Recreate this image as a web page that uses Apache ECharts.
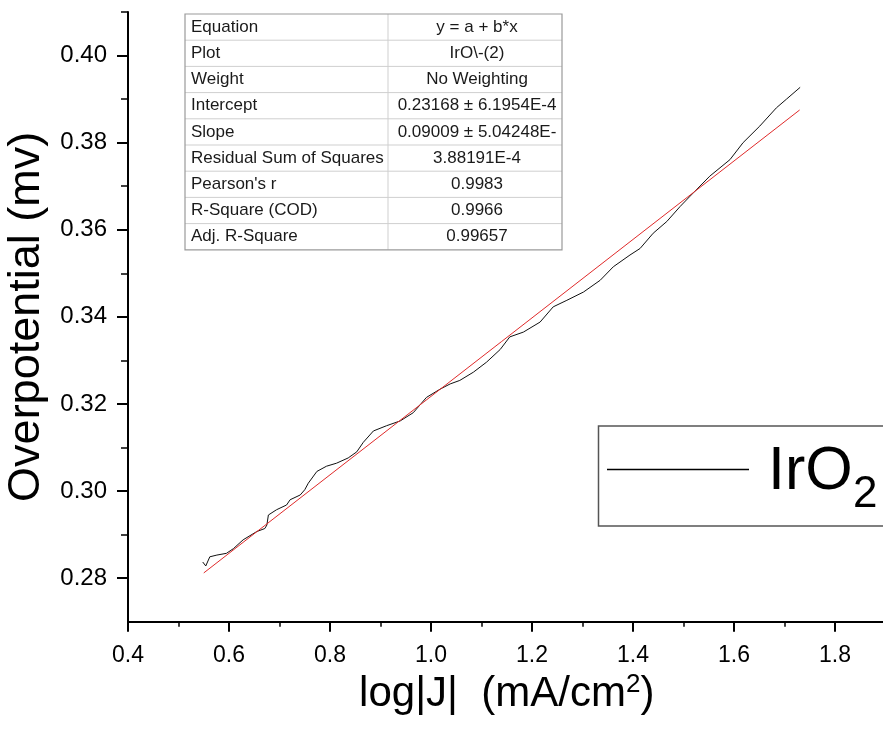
<!DOCTYPE html>
<html>
<head>
<meta charset="utf-8">
<title>IrO2 Tafel plot</title>
<script src="https://cdn.jsdelivr.net/npm/echarts@6/dist/echarts.min.js"></script>
<style>
  html, body { margin: 0; padding: 0; background: #fff; }
  #chart { width: 883px; height: 736px; }
</style>
</head>
<body>
<div id="chart"></div>
<script>
// measured curve (log|J| vs overpotential)
const logJ = [0.548, 0.554, 0.562, 0.576, 0.595, 0.609, 0.628, 0.655, 0.671, 0.675,
  0.678, 0.694, 0.714, 0.721, 0.741, 0.750, 0.757, 0.774, 0.793, 0.813,
  0.836, 0.853, 0.866, 0.886, 0.912, 0.939, 0.965, 0.991, 1.018, 1.038,
  1.057, 1.084, 1.110, 1.137, 1.156, 1.183, 1.216, 1.242, 1.269, 1.302,
  1.335, 1.361, 1.394, 1.414, 1.440, 1.467, 1.493, 1.513, 1.552, 1.592,
  1.618, 1.651, 1.684, 1.704, 1.731];
const overpotential = [0.2837, 0.2828, 0.2849, 0.2853, 0.2857, 0.2868, 0.2888, 0.2907, 0.2914, 0.2922,
  0.2945, 0.2957, 0.2968, 0.2980, 0.2991, 0.3003, 0.3018, 0.3045, 0.3057, 0.3064,
  0.3076, 0.3090, 0.3112, 0.3138, 0.3150, 0.3161, 0.3180, 0.3215, 0.3234, 0.3246,
  0.3254, 0.3273, 0.3296, 0.3325, 0.3354, 0.3365, 0.3388, 0.3423, 0.3438, 0.3457,
  0.3484, 0.3515, 0.3542, 0.3557, 0.3592, 0.3619, 0.3653, 0.3677, 0.3723, 0.3761,
  0.3800, 0.3838, 0.3880, 0.3900, 0.3927];

// linear fit end points
const fitX = [0.55, 1.73];
const fitY = [0.2812, 0.3875];

// ticks
const xMajor = [0.4, 0.6, 0.8, 1.0, 1.2, 1.4, 1.6, 1.8];
const xMinor = [0.5, 0.7, 0.9, 1.1, 1.3, 1.5, 1.7, 1.9];
const yMajor = [0.28, 0.30, 0.32, 0.34, 0.36, 0.38, 0.40];
const yMinor = [0.29, 0.31, 0.33, 0.35, 0.37, 0.39, 0.41];

// fit report table
const tableLabels = ['Equation', 'Plot', 'Weight', 'Intercept', 'Slope',
  'Residual Sum of Squares', "Pearson's r", 'R-Square (COD)', 'Adj. R-Square'];
const tableValues = ['y = a + b*x', 'IrO\\-(2)', 'No Weighting', '0.23168 \u00b1 6.1954E-4',
  '0.09009 \u00b1 5.04248E-', '3.88191E-4', '0.9983', '0.9966', '0.99657'];

const FONT = '"Liberation Sans", Arial, sans-serif';

const chart = echarts.init(document.getElementById('chart'));

// table graphic
const tb = { x0: 185, x1: 388, x2: 562, top: 14, rowH: 26.2 };
const tableEls = [];
const tBottom = tb.top + tb.rowH * tableLabels.length;
tableLabels.forEach((lab, i) => {
  const yc = tb.top + tb.rowH * (i + 0.5);
  if (i > 0) {
    tableEls.push({
      type: 'line', silent: true,
      shape: { x1: tb.x0, y1: tb.top + tb.rowH * i, x2: tb.x2, y2: tb.top + tb.rowH * i },
      style: { stroke: '#cfcfcf', lineWidth: 1 }
    });
  }
  tableEls.push({
    type: 'text', silent: true,
    style: { text: lab, x: tb.x0 + 6, y: yc, fill: '#1a1a1a', font: '17px ' + FONT,
      align: 'left', verticalAlign: 'middle', textAlign: 'left', textVerticalAlign: 'middle' }
  });
  tableEls.push({
    type: 'text', silent: true,
    style: { text: tableValues[i], x: (tb.x1 + tb.x2) / 2 + 2, y: yc, fill: '#1a1a1a', font: '17px ' + FONT,
      align: 'center', verticalAlign: 'middle', textAlign: 'center', textVerticalAlign: 'middle' }
  });
});
tableEls.push({
  type: 'line', silent: true,
  shape: { x1: tb.x1, y1: tb.top, x2: tb.x1, y2: tBottom },
  style: { stroke: '#cfcfcf', lineWidth: 1 }
});
tableEls.push({
  type: 'rect', silent: true,
  shape: { x: tb.x0, y: tb.top, width: tb.x2 - tb.x0, height: tBottom - tb.top },
  style: { fill: null, stroke: '#9a9a9a', lineWidth: 1.2 }
});

// legend graphic
const legendEls = [
  { type: 'rect', silent: true, shape: { x: 598.5, y: 426, width: 300, height: 100 },
    style: { fill: '#fff', stroke: '#555', lineWidth: 1.5 } },
  { type: 'line', silent: true, shape: { x1: 607, y1: 469.5, x2: 749, y2: 469.5 },
    style: { stroke: '#000', lineWidth: 1.5 } },
  { type: 'text', silent: true,
    style: { text: 'IrO', x: 768, y: 472, fill: '#000', font: '61px ' + FONT,
      align: 'left', verticalAlign: 'middle', textAlign: 'left', textVerticalAlign: 'middle' } },
  { type: 'text', silent: true,
    style: { text: '2', x: 853, y: 495, fill: '#000', font: '44px ' + FONT,
      align: 'left', verticalAlign: 'middle', textAlign: 'left', textVerticalAlign: 'middle' } }
];

const option = {
  animation: false,
  backgroundColor: '#fff',
  textStyle: { fontFamily: FONT },
  grid: { left: 128, top: 12, width: 757.5, height: 609.7, outerBoundsMode: 'none', containLabel: false },
  xAxis: [
    {
      type: 'value', min: 0.4, max: 1.9,
      name: '{t|log|J|  (mA/cm}{s|2}{t|)}',
      nameLocation: 'middle', nameGap: 47,
      nameTextStyle: {
        rich: {
          t: { fontSize: 42, fontFamily: FONT, color: '#000', lineHeight: 46 },
          s: { fontSize: 26, fontFamily: FONT, color: '#000', verticalAlign: 'top', lineHeight: 46 }
        }
      },
      axisLine: { lineStyle: { color: '#000', width: 2 } },
      axisTick: { customValues: xMajor, length: 10, lineStyle: { color: '#000', width: 2 } },
      axisLabel: { customValues: xMajor, formatter: v => v.toFixed(1), fontSize: 23,
        color: '#000', margin: 22, fontFamily: FONT },
      splitLine: { show: false }
    },
    {
      type: 'value', min: 0.4, max: 1.9, position: 'bottom',
      axisLine: { show: false },
      axisTick: { customValues: xMinor, length: 5, lineStyle: { color: '#000', width: 1.5 } },
      axisLabel: { show: false },
      splitLine: { show: false }
    }
  ],
  yAxis: [
    {
      type: 'value', min: 0.27, max: 0.41,
      name: 'Overpotential (mv)',
      nameLocation: 'middle', nameGap: 74,
      nameTextStyle: { fontSize: 45, color: '#000', fontFamily: FONT },
      axisLine: { lineStyle: { color: '#000', width: 2 } },
      axisTick: { customValues: yMajor, length: 11, lineStyle: { color: '#000', width: 2 } },
      axisLabel: { customValues: yMajor, formatter: v => v.toFixed(2), fontSize: 24,
        color: '#000', margin: 21, fontFamily: FONT },
      splitLine: { show: false }
    },
    {
      type: 'value', min: 0.27, max: 0.41, position: 'left',
      axisLine: { show: false },
      axisTick: { customValues: yMinor, length: 7, lineStyle: { color: '#000', width: 1.5 } },
      axisLabel: { show: false },
      splitLine: { show: false }
    }
  ],
  series: [
    {
      name: 'IrO2', type: 'line', xAxisIndex: 0, yAxisIndex: 0,
      data: logJ.map((x, i) => [x, overpotential[i]]),
      showSymbol: false, smooth: false,
      lineStyle: { color: '#111', width: 1 }
    },
    {
      name: 'fit', type: 'line', xAxisIndex: 0, yAxisIndex: 0,
      data: fitX.map((x, i) => [x, fitY[i]]),
      showSymbol: false,
      lineStyle: { color: '#e02a2a', width: 1 }
    }
  ],
  graphic: { elements: tableEls.concat(legendEls) }
};

chart.setOption(option);
</script>
</body>
</html>
